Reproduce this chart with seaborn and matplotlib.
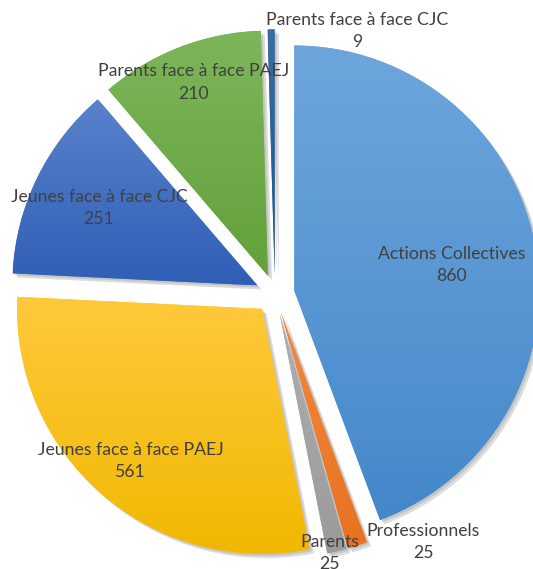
import numpy as np
import matplotlib
matplotlib.use("Agg")
import matplotlib.pyplot as plt
import matplotlib.patheffects as pe
from matplotlib import colors as mcolors
import seaborn as sns

# ---- data ----
categories = ["Actions Collectives", "Professionnels", "Parents",
              "Jeunes face à face PAEJ", "Jeunes face à face CJC",
              "Parents face à face PAEJ", "Parents face à face CJC"]
values = [860, 25, 25, 561, 251, 210, 9]

# ---- styles ----
top_colors = ["#6EA6DC", "#F4893F", "#B0B0B0", "#FFC93C", "#5A82CC", "#7DB65A", "#3A6EA3"]
bot_colors = ["#4488CA", "#E7721F", "#9A9A9A", "#F0B800", "#2F5EB6", "#62A13B", "#1F5189"]
explode = [0.08] * len(values)
# label placement: radial distance (fraction of radius) and angular shift (deg, clockwise)
label_dist = [0.65, 1.10, 1.00, 0.82, 0.72, 0.845, 1.05]
label_shift = [1.0, -13.6, 1.7, 0.0, 0.0, 0.0, 19.6]

sns.set_theme(style="white")
plt.rcParams['font.family'] = ['Lato', 'DejaVu Sans']

fig = plt.figure(figsize=(5.33, 5.69), dpi=100)
ax = fig.add_axes([0, 0, 1, 1])

wedges, _ = ax.pie(values, colors=top_colors, startangle=90, counterclock=False,
                   explode=explode, radius=1.0, wedgeprops=dict(linewidth=0))

for i, w in enumerate(wedges):
    w.set_path_effects([pe.SimplePatchShadow(offset=(3, -3), shadow_rgbFace="k", alpha=0.15),
                        pe.SimplePatchShadow(offset=(1.5, -1.5), shadow_rgbFace="k", alpha=0.12),
                        pe.Normal()])
    verts = w.get_path().vertices
    xmin, xmax = verts[:, 0].min(), verts[:, 0].max()
    ymin, ymax = verts[:, 1].min(), verts[:, 1].max()
    c1 = np.array(mcolors.to_rgb(top_colors[i]))
    c2 = np.array(mcolors.to_rgb(bot_colors[i]))
    t = np.linspace(0, 1, 256)[:, None]
    grad = (c1 * (1 - t) + c2 * t)[:, None, :]
    im = ax.imshow(grad, extent=[xmin, xmax, ymin, ymax], origin="upper",
                   aspect="auto", interpolation="bilinear", zorder=w.get_zorder() + 0.1)
    im.set_clip_path(w)

    # label
    mid = 0.5 * (w.theta1 + w.theta2) - label_shift[i]
    cx, cy = w.center
    r = label_dist[i] * w.r
    lx = cx + r * np.cos(np.deg2rad(mid))
    ly = cy + r * np.sin(np.deg2rad(mid))
    ax.text(lx, ly, f"{categories[i]}\n{values[i]}", ha="center", va="center",
            fontsize=12.7, color="#404040", linespacing=1.5, zorder=10)

ax.set_xlim(-1.122, 1.053)
ax.set_ylim(-1.122, 1.2)
ax.set_aspect("auto")
ax.axis("off")

fig.savefig("out.png", dpi=100, facecolor="white")
